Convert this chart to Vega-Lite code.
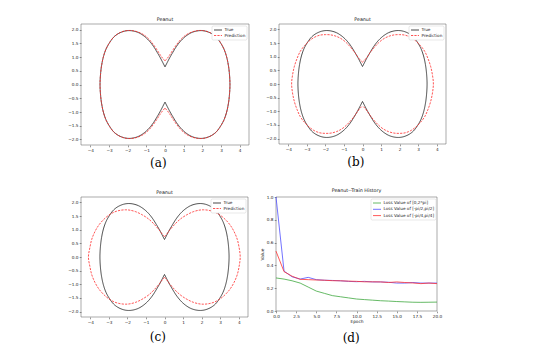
{
"$schema": "https://vega.github.io/schema/vega-lite/v6.json",
"padding": {"left": 67, "top": 16, "right": 5, "bottom": 5},
"background": "white",
"datasets": {
"curves": [
{"p":"T","s":"True","g":"R","x":0,"y":0.64},{"p":"T","s":"True","g":"R","x":0.12,"y":0.8},{"p":"T","s":"True","g":"R","x":0.25,"y":0.97},{"p":"T","s":"True","g":"R","x":0.42,"y":1.17},{"p":"T","s":"True","g":"R","x":0.62,"y":1.39},{"p":"T","s":"True","g":"R","x":0.85,"y":1.59},{"p":"T","s":"True","g":"R","x":1.1,"y":1.75},{"p":"T","s":"True","g":"R","x":1.4,"y":1.88},{"p":"T","s":"True","g":"R","x":1.7,"y":1.945},{"p":"T","s":"True","g":"R","x":1.95,"y":1.96},{"p":"T","s":"True","g":"R","x":2.2,"y":1.935},{"p":"T","s":"True","g":"R","x":2.5,"y":1.85},{"p":"T","s":"True","g":"R","x":2.75,"y":1.72},{"p":"T","s":"True","g":"R","x":2.97,"y":1.52},{"p":"T","s":"True","g":"R","x":3.15,"y":1.3},{"p":"T","s":"True","g":"R","x":3.29,"y":1.03},{"p":"T","s":"True","g":"R","x":3.39,"y":0.72},{"p":"T","s":"True","g":"R","x":3.45,"y":0.4},{"p":"T","s":"True","g":"R","x":3.48,"y":0},{"p":"T","s":"True","g":"R","x":3.45,"y":-0.4},{"p":"T","s":"True","g":"R","x":3.39,"y":-0.72},{"p":"T","s":"True","g":"R","x":3.29,"y":-1.03},{"p":"T","s":"True","g":"R","x":3.15,"y":-1.3},{"p":"T","s":"True","g":"R","x":2.97,"y":-1.52},{"p":"T","s":"True","g":"R","x":2.75,"y":-1.72},{"p":"T","s":"True","g":"R","x":2.5,"y":-1.85},{"p":"T","s":"True","g":"R","x":2.2,"y":-1.935},{"p":"T","s":"True","g":"R","x":1.95,"y":-1.96},{"p":"T","s":"True","g":"R","x":1.7,"y":-1.945},{"p":"T","s":"True","g":"R","x":1.4,"y":-1.88},{"p":"T","s":"True","g":"R","x":1.1,"y":-1.75},{"p":"T","s":"True","g":"R","x":0.85,"y":-1.59},{"p":"T","s":"True","g":"R","x":0.62,"y":-1.39},{"p":"T","s":"True","g":"R","x":0.42,"y":-1.17},{"p":"T","s":"True","g":"R","x":0.25,"y":-0.97},{"p":"T","s":"True","g":"R","x":0.12,"y":-0.8},{"p":"T","s":"True","g":"R","x":0,"y":-0.64},
{"p":"T","s":"True","g":"L","x":0,"y":0.64},{"p":"T","s":"True","g":"L","x":-0.12,"y":0.8},{"p":"T","s":"True","g":"L","x":-0.25,"y":0.97},{"p":"T","s":"True","g":"L","x":-0.42,"y":1.17},{"p":"T","s":"True","g":"L","x":-0.62,"y":1.39},{"p":"T","s":"True","g":"L","x":-0.85,"y":1.59},{"p":"T","s":"True","g":"L","x":-1.1,"y":1.75},{"p":"T","s":"True","g":"L","x":-1.4,"y":1.88},{"p":"T","s":"True","g":"L","x":-1.7,"y":1.945},{"p":"T","s":"True","g":"L","x":-1.95,"y":1.96},{"p":"T","s":"True","g":"L","x":-2.2,"y":1.935},{"p":"T","s":"True","g":"L","x":-2.5,"y":1.85},{"p":"T","s":"True","g":"L","x":-2.75,"y":1.72},{"p":"T","s":"True","g":"L","x":-2.97,"y":1.52},{"p":"T","s":"True","g":"L","x":-3.15,"y":1.3},{"p":"T","s":"True","g":"L","x":-3.29,"y":1.03},{"p":"T","s":"True","g":"L","x":-3.39,"y":0.72},{"p":"T","s":"True","g":"L","x":-3.45,"y":0.4},{"p":"T","s":"True","g":"L","x":-3.48,"y":0},{"p":"T","s":"True","g":"L","x":-3.45,"y":-0.4},{"p":"T","s":"True","g":"L","x":-3.39,"y":-0.72},{"p":"T","s":"True","g":"L","x":-3.29,"y":-1.03},{"p":"T","s":"True","g":"L","x":-3.15,"y":-1.3},{"p":"T","s":"True","g":"L","x":-2.97,"y":-1.52},{"p":"T","s":"True","g":"L","x":-2.75,"y":-1.72},{"p":"T","s":"True","g":"L","x":-2.5,"y":-1.85},{"p":"T","s":"True","g":"L","x":-2.2,"y":-1.935},{"p":"T","s":"True","g":"L","x":-1.95,"y":-1.96},{"p":"T","s":"True","g":"L","x":-1.7,"y":-1.945},{"p":"T","s":"True","g":"L","x":-1.4,"y":-1.88},{"p":"T","s":"True","g":"L","x":-1.1,"y":-1.75},{"p":"T","s":"True","g":"L","x":-0.85,"y":-1.59},{"p":"T","s":"True","g":"L","x":-0.62,"y":-1.39},{"p":"T","s":"True","g":"L","x":-0.42,"y":-1.17},{"p":"T","s":"True","g":"L","x":-0.25,"y":-0.97},{"p":"T","s":"True","g":"L","x":-0.12,"y":-0.8},{"p":"T","s":"True","g":"L","x":0,"y":-0.64},
{"p":"a","s":"Prediction","g":"R","x":0,"y":0.86},{"p":"a","s":"Prediction","g":"R","x":0.12,"y":0.95},{"p":"a","s":"Prediction","g":"R","x":0.25,"y":1.07},{"p":"a","s":"Prediction","g":"R","x":0.42,"y":1.25},{"p":"a","s":"Prediction","g":"R","x":0.62,"y":1.45},{"p":"a","s":"Prediction","g":"R","x":0.85,"y":1.64},{"p":"a","s":"Prediction","g":"R","x":1.1,"y":1.79},{"p":"a","s":"Prediction","g":"R","x":1.4,"y":1.9},{"p":"a","s":"Prediction","g":"R","x":1.7,"y":1.955},{"p":"a","s":"Prediction","g":"R","x":1.95,"y":1.965},{"p":"a","s":"Prediction","g":"R","x":2.2,"y":1.94},{"p":"a","s":"Prediction","g":"R","x":2.5,"y":1.855},{"p":"a","s":"Prediction","g":"R","x":2.75,"y":1.725},{"p":"a","s":"Prediction","g":"R","x":2.97,"y":1.525},{"p":"a","s":"Prediction","g":"R","x":3.15,"y":1.305},{"p":"a","s":"Prediction","g":"R","x":3.29,"y":1.035},{"p":"a","s":"Prediction","g":"R","x":3.39,"y":0.72},{"p":"a","s":"Prediction","g":"R","x":3.45,"y":0.4},{"p":"a","s":"Prediction","g":"R","x":3.48,"y":0},{"p":"a","s":"Prediction","g":"R","x":3.45,"y":-0.4},{"p":"a","s":"Prediction","g":"R","x":3.39,"y":-0.72},{"p":"a","s":"Prediction","g":"R","x":3.29,"y":-1.035},{"p":"a","s":"Prediction","g":"R","x":3.15,"y":-1.305},{"p":"a","s":"Prediction","g":"R","x":2.97,"y":-1.525},{"p":"a","s":"Prediction","g":"R","x":2.75,"y":-1.725},{"p":"a","s":"Prediction","g":"R","x":2.5,"y":-1.855},{"p":"a","s":"Prediction","g":"R","x":2.2,"y":-1.94},{"p":"a","s":"Prediction","g":"R","x":1.95,"y":-1.965},{"p":"a","s":"Prediction","g":"R","x":1.7,"y":-1.955},{"p":"a","s":"Prediction","g":"R","x":1.4,"y":-1.9},{"p":"a","s":"Prediction","g":"R","x":1.1,"y":-1.79},{"p":"a","s":"Prediction","g":"R","x":0.85,"y":-1.64},{"p":"a","s":"Prediction","g":"R","x":0.62,"y":-1.45},{"p":"a","s":"Prediction","g":"R","x":0.42,"y":-1.25},{"p":"a","s":"Prediction","g":"R","x":0.25,"y":-1.07},{"p":"a","s":"Prediction","g":"R","x":0.12,"y":-0.95},{"p":"a","s":"Prediction","g":"R","x":0,"y":-0.86},
{"p":"a","s":"Prediction","g":"L","x":0,"y":0.86},{"p":"a","s":"Prediction","g":"L","x":-0.12,"y":0.95},{"p":"a","s":"Prediction","g":"L","x":-0.25,"y":1.07},{"p":"a","s":"Prediction","g":"L","x":-0.42,"y":1.25},{"p":"a","s":"Prediction","g":"L","x":-0.62,"y":1.45},{"p":"a","s":"Prediction","g":"L","x":-0.85,"y":1.64},{"p":"a","s":"Prediction","g":"L","x":-1.1,"y":1.79},{"p":"a","s":"Prediction","g":"L","x":-1.4,"y":1.9},{"p":"a","s":"Prediction","g":"L","x":-1.7,"y":1.955},{"p":"a","s":"Prediction","g":"L","x":-1.95,"y":1.965},{"p":"a","s":"Prediction","g":"L","x":-2.2,"y":1.94},{"p":"a","s":"Prediction","g":"L","x":-2.5,"y":1.855},{"p":"a","s":"Prediction","g":"L","x":-2.75,"y":1.725},{"p":"a","s":"Prediction","g":"L","x":-2.97,"y":1.525},{"p":"a","s":"Prediction","g":"L","x":-3.15,"y":1.305},{"p":"a","s":"Prediction","g":"L","x":-3.29,"y":1.035},{"p":"a","s":"Prediction","g":"L","x":-3.39,"y":0.72},{"p":"a","s":"Prediction","g":"L","x":-3.45,"y":0.4},{"p":"a","s":"Prediction","g":"L","x":-3.48,"y":0},{"p":"a","s":"Prediction","g":"L","x":-3.45,"y":-0.4},{"p":"a","s":"Prediction","g":"L","x":-3.39,"y":-0.72},{"p":"a","s":"Prediction","g":"L","x":-3.29,"y":-1.035},{"p":"a","s":"Prediction","g":"L","x":-3.15,"y":-1.305},{"p":"a","s":"Prediction","g":"L","x":-2.97,"y":-1.525},{"p":"a","s":"Prediction","g":"L","x":-2.75,"y":-1.725},{"p":"a","s":"Prediction","g":"L","x":-2.5,"y":-1.855},{"p":"a","s":"Prediction","g":"L","x":-2.2,"y":-1.94},{"p":"a","s":"Prediction","g":"L","x":-1.95,"y":-1.965},{"p":"a","s":"Prediction","g":"L","x":-1.7,"y":-1.955},{"p":"a","s":"Prediction","g":"L","x":-1.4,"y":-1.9},{"p":"a","s":"Prediction","g":"L","x":-1.1,"y":-1.79},{"p":"a","s":"Prediction","g":"L","x":-0.85,"y":-1.64},{"p":"a","s":"Prediction","g":"L","x":-0.62,"y":-1.45},{"p":"a","s":"Prediction","g":"L","x":-0.42,"y":-1.25},{"p":"a","s":"Prediction","g":"L","x":-0.25,"y":-1.07},{"p":"a","s":"Prediction","g":"L","x":-0.12,"y":-0.95},{"p":"a","s":"Prediction","g":"L","x":0,"y":-0.86},
{"p":"b","s":"Prediction","g":"R","x":0,"y":0.8},{"p":"b","s":"Prediction","g":"R","x":0.12,"y":0.88},{"p":"b","s":"Prediction","g":"R","x":0.25,"y":0.99},{"p":"b","s":"Prediction","g":"R","x":0.42,"y":1.16},{"p":"b","s":"Prediction","g":"R","x":0.62,"y":1.33},{"p":"b","s":"Prediction","g":"R","x":0.85,"y":1.5},{"p":"b","s":"Prediction","g":"R","x":1.1,"y":1.64},{"p":"b","s":"Prediction","g":"R","x":1.4,"y":1.745},{"p":"b","s":"Prediction","g":"R","x":1.7,"y":1.8},{"p":"b","s":"Prediction","g":"R","x":2.0,"y":1.81},{"p":"b","s":"Prediction","g":"R","x":2.3,"y":1.79},{"p":"b","s":"Prediction","g":"R","x":2.6,"y":1.71},{"p":"b","s":"Prediction","g":"R","x":2.87,"y":1.58},{"p":"b","s":"Prediction","g":"R","x":3.12,"y":1.41},{"p":"b","s":"Prediction","g":"R","x":3.35,"y":1.2},{"p":"b","s":"Prediction","g":"R","x":3.53,"y":0.93},{"p":"b","s":"Prediction","g":"R","x":3.67,"y":0.65},{"p":"b","s":"Prediction","g":"R","x":3.77,"y":0.33},{"p":"b","s":"Prediction","g":"R","x":3.82,"y":0},{"p":"b","s":"Prediction","g":"R","x":3.77,"y":-0.33},{"p":"b","s":"Prediction","g":"R","x":3.67,"y":-0.65},{"p":"b","s":"Prediction","g":"R","x":3.53,"y":-0.93},{"p":"b","s":"Prediction","g":"R","x":3.35,"y":-1.2},{"p":"b","s":"Prediction","g":"R","x":3.12,"y":-1.41},{"p":"b","s":"Prediction","g":"R","x":2.87,"y":-1.58},{"p":"b","s":"Prediction","g":"R","x":2.6,"y":-1.71},{"p":"b","s":"Prediction","g":"R","x":2.3,"y":-1.79},{"p":"b","s":"Prediction","g":"R","x":2.0,"y":-1.81},{"p":"b","s":"Prediction","g":"R","x":1.7,"y":-1.8},{"p":"b","s":"Prediction","g":"R","x":1.4,"y":-1.745},{"p":"b","s":"Prediction","g":"R","x":1.1,"y":-1.64},{"p":"b","s":"Prediction","g":"R","x":0.85,"y":-1.5},{"p":"b","s":"Prediction","g":"R","x":0.62,"y":-1.33},{"p":"b","s":"Prediction","g":"R","x":0.42,"y":-1.16},{"p":"b","s":"Prediction","g":"R","x":0.25,"y":-0.99},{"p":"b","s":"Prediction","g":"R","x":0.12,"y":-0.88},{"p":"b","s":"Prediction","g":"R","x":0,"y":-0.8},
{"p":"b","s":"Prediction","g":"L","x":0,"y":0.8},{"p":"b","s":"Prediction","g":"L","x":-0.12,"y":0.88},{"p":"b","s":"Prediction","g":"L","x":-0.25,"y":0.99},{"p":"b","s":"Prediction","g":"L","x":-0.42,"y":1.16},{"p":"b","s":"Prediction","g":"L","x":-0.62,"y":1.33},{"p":"b","s":"Prediction","g":"L","x":-0.85,"y":1.5},{"p":"b","s":"Prediction","g":"L","x":-1.1,"y":1.64},{"p":"b","s":"Prediction","g":"L","x":-1.4,"y":1.745},{"p":"b","s":"Prediction","g":"L","x":-1.7,"y":1.8},{"p":"b","s":"Prediction","g":"L","x":-2.0,"y":1.81},{"p":"b","s":"Prediction","g":"L","x":-2.3,"y":1.79},{"p":"b","s":"Prediction","g":"L","x":-2.6,"y":1.71},{"p":"b","s":"Prediction","g":"L","x":-2.87,"y":1.58},{"p":"b","s":"Prediction","g":"L","x":-3.12,"y":1.41},{"p":"b","s":"Prediction","g":"L","x":-3.35,"y":1.2},{"p":"b","s":"Prediction","g":"L","x":-3.53,"y":0.93},{"p":"b","s":"Prediction","g":"L","x":-3.67,"y":0.65},{"p":"b","s":"Prediction","g":"L","x":-3.77,"y":0.33},{"p":"b","s":"Prediction","g":"L","x":-3.82,"y":0},{"p":"b","s":"Prediction","g":"L","x":-3.77,"y":-0.33},{"p":"b","s":"Prediction","g":"L","x":-3.67,"y":-0.65},{"p":"b","s":"Prediction","g":"L","x":-3.53,"y":-0.93},{"p":"b","s":"Prediction","g":"L","x":-3.35,"y":-1.2},{"p":"b","s":"Prediction","g":"L","x":-3.12,"y":-1.41},{"p":"b","s":"Prediction","g":"L","x":-2.87,"y":-1.58},{"p":"b","s":"Prediction","g":"L","x":-2.6,"y":-1.71},{"p":"b","s":"Prediction","g":"L","x":-2.3,"y":-1.79},{"p":"b","s":"Prediction","g":"L","x":-2.0,"y":-1.81},{"p":"b","s":"Prediction","g":"L","x":-1.7,"y":-1.8},{"p":"b","s":"Prediction","g":"L","x":-1.4,"y":-1.745},{"p":"b","s":"Prediction","g":"L","x":-1.1,"y":-1.64},{"p":"b","s":"Prediction","g":"L","x":-0.85,"y":-1.5},{"p":"b","s":"Prediction","g":"L","x":-0.62,"y":-1.33},{"p":"b","s":"Prediction","g":"L","x":-0.42,"y":-1.16},{"p":"b","s":"Prediction","g":"L","x":-0.25,"y":-0.99},{"p":"b","s":"Prediction","g":"L","x":-0.12,"y":-0.88},{"p":"b","s":"Prediction","g":"L","x":0,"y":-0.8},
{"p":"c","s":"Prediction","g":"R","x":0,"y":0.75},{"p":"c","s":"Prediction","g":"R","x":0.12,"y":0.84},{"p":"c","s":"Prediction","g":"R","x":0.25,"y":0.96},{"p":"c","s":"Prediction","g":"R","x":0.45,"y":1.12},{"p":"c","s":"Prediction","g":"R","x":0.7,"y":1.3},{"p":"c","s":"Prediction","g":"R","x":0.95,"y":1.44},{"p":"c","s":"Prediction","g":"R","x":1.25,"y":1.565},{"p":"c","s":"Prediction","g":"R","x":1.55,"y":1.66},{"p":"c","s":"Prediction","g":"R","x":1.85,"y":1.715},{"p":"c","s":"Prediction","g":"R","x":2.1,"y":1.73},{"p":"c","s":"Prediction","g":"R","x":2.4,"y":1.71},{"p":"c","s":"Prediction","g":"R","x":2.7,"y":1.65},{"p":"c","s":"Prediction","g":"R","x":3.0,"y":1.535},{"p":"c","s":"Prediction","g":"R","x":3.3,"y":1.36},{"p":"c","s":"Prediction","g":"R","x":3.55,"y":1.16},{"p":"c","s":"Prediction","g":"R","x":3.75,"y":0.93},{"p":"c","s":"Prediction","g":"R","x":3.92,"y":0.65},{"p":"c","s":"Prediction","g":"R","x":4.02,"y":0.35},{"p":"c","s":"Prediction","g":"R","x":4.08,"y":0},{"p":"c","s":"Prediction","g":"R","x":4.02,"y":-0.35},{"p":"c","s":"Prediction","g":"R","x":3.92,"y":-0.65},{"p":"c","s":"Prediction","g":"R","x":3.75,"y":-0.93},{"p":"c","s":"Prediction","g":"R","x":3.55,"y":-1.16},{"p":"c","s":"Prediction","g":"R","x":3.3,"y":-1.36},{"p":"c","s":"Prediction","g":"R","x":3.0,"y":-1.535},{"p":"c","s":"Prediction","g":"R","x":2.7,"y":-1.65},{"p":"c","s":"Prediction","g":"R","x":2.4,"y":-1.71},{"p":"c","s":"Prediction","g":"R","x":2.1,"y":-1.73},{"p":"c","s":"Prediction","g":"R","x":1.85,"y":-1.715},{"p":"c","s":"Prediction","g":"R","x":1.55,"y":-1.66},{"p":"c","s":"Prediction","g":"R","x":1.25,"y":-1.565},{"p":"c","s":"Prediction","g":"R","x":0.95,"y":-1.44},{"p":"c","s":"Prediction","g":"R","x":0.7,"y":-1.3},{"p":"c","s":"Prediction","g":"R","x":0.45,"y":-1.12},{"p":"c","s":"Prediction","g":"R","x":0.25,"y":-0.96},{"p":"c","s":"Prediction","g":"R","x":0.12,"y":-0.84},{"p":"c","s":"Prediction","g":"R","x":0,"y":-0.75},
{"p":"c","s":"Prediction","g":"L","x":0,"y":0.75},{"p":"c","s":"Prediction","g":"L","x":-0.12,"y":0.84},{"p":"c","s":"Prediction","g":"L","x":-0.25,"y":0.96},{"p":"c","s":"Prediction","g":"L","x":-0.45,"y":1.12},{"p":"c","s":"Prediction","g":"L","x":-0.7,"y":1.3},{"p":"c","s":"Prediction","g":"L","x":-0.95,"y":1.44},{"p":"c","s":"Prediction","g":"L","x":-1.25,"y":1.565},{"p":"c","s":"Prediction","g":"L","x":-1.55,"y":1.66},{"p":"c","s":"Prediction","g":"L","x":-1.85,"y":1.715},{"p":"c","s":"Prediction","g":"L","x":-2.1,"y":1.73},{"p":"c","s":"Prediction","g":"L","x":-2.4,"y":1.71},{"p":"c","s":"Prediction","g":"L","x":-2.7,"y":1.65},{"p":"c","s":"Prediction","g":"L","x":-3.0,"y":1.535},{"p":"c","s":"Prediction","g":"L","x":-3.3,"y":1.36},{"p":"c","s":"Prediction","g":"L","x":-3.55,"y":1.16},{"p":"c","s":"Prediction","g":"L","x":-3.75,"y":0.93},{"p":"c","s":"Prediction","g":"L","x":-3.92,"y":0.65},{"p":"c","s":"Prediction","g":"L","x":-4.02,"y":0.35},{"p":"c","s":"Prediction","g":"L","x":-4.1,"y":0},{"p":"c","s":"Prediction","g":"L","x":-4.02,"y":-0.35},{"p":"c","s":"Prediction","g":"L","x":-3.92,"y":-0.65},{"p":"c","s":"Prediction","g":"L","x":-3.75,"y":-0.93},{"p":"c","s":"Prediction","g":"L","x":-3.55,"y":-1.16},{"p":"c","s":"Prediction","g":"L","x":-3.3,"y":-1.36},{"p":"c","s":"Prediction","g":"L","x":-3.0,"y":-1.535},{"p":"c","s":"Prediction","g":"L","x":-2.7,"y":-1.65},{"p":"c","s":"Prediction","g":"L","x":-2.4,"y":-1.71},{"p":"c","s":"Prediction","g":"L","x":-2.1,"y":-1.73},{"p":"c","s":"Prediction","g":"L","x":-1.85,"y":-1.715},{"p":"c","s":"Prediction","g":"L","x":-1.55,"y":-1.66},{"p":"c","s":"Prediction","g":"L","x":-1.25,"y":-1.565},{"p":"c","s":"Prediction","g":"L","x":-0.95,"y":-1.44},{"p":"c","s":"Prediction","g":"L","x":-0.7,"y":-1.3},{"p":"c","s":"Prediction","g":"L","x":-0.45,"y":-1.12},{"p":"c","s":"Prediction","g":"L","x":-0.25,"y":-0.96},{"p":"c","s":"Prediction","g":"L","x":-0.12,"y":-0.84},{"p":"c","s":"Prediction","g":"L","x":0,"y":-0.75}
],
"loss": [
{"series":"Loss Value of [0,2*pi]","e":0,"v":0.29},{"series":"Loss Value of [0,2*pi]","e":1,"v":0.28},{"series":"Loss Value of [0,2*pi]","e":2,"v":0.265},{"series":"Loss Value of [0,2*pi]","e":3,"v":0.245},{"series":"Loss Value of [0,2*pi]","e":4,"v":0.21},{"series":"Loss Value of [0,2*pi]","e":5,"v":0.175},{"series":"Loss Value of [0,2*pi]","e":6,"v":0.155},{"series":"Loss Value of [0,2*pi]","e":7,"v":0.135},{"series":"Loss Value of [0,2*pi]","e":8,"v":0.125},{"series":"Loss Value of [0,2*pi]","e":9,"v":0.115},{"series":"Loss Value of [0,2*pi]","e":10,"v":0.105},{"series":"Loss Value of [0,2*pi]","e":11,"v":0.1},{"series":"Loss Value of [0,2*pi]","e":12,"v":0.095},{"series":"Loss Value of [0,2*pi]","e":13,"v":0.09},{"series":"Loss Value of [0,2*pi]","e":14,"v":0.087},{"series":"Loss Value of [0,2*pi]","e":15,"v":0.083},{"series":"Loss Value of [0,2*pi]","e":16,"v":0.08},{"series":"Loss Value of [0,2*pi]","e":17,"v":0.077},{"series":"Loss Value of [0,2*pi]","e":18,"v":0.076},{"series":"Loss Value of [0,2*pi]","e":19,"v":0.077},{"series":"Loss Value of [0,2*pi]","e":20,"v":0.078},
{"series":"Loss Value of [-pi/2,pi/2]","e":0,"v":1.0},{"series":"Loss Value of [-pi/2,pi/2]","e":1,"v":0.35},{"series":"Loss Value of [-pi/2,pi/2]","e":2,"v":0.3},{"series":"Loss Value of [-pi/2,pi/2]","e":3,"v":0.28},{"series":"Loss Value of [-pi/2,pi/2]","e":4,"v":0.295},{"series":"Loss Value of [-pi/2,pi/2]","e":5,"v":0.275},{"series":"Loss Value of [-pi/2,pi/2]","e":6,"v":0.27},{"series":"Loss Value of [-pi/2,pi/2]","e":7,"v":0.268},{"series":"Loss Value of [-pi/2,pi/2]","e":8,"v":0.265},{"series":"Loss Value of [-pi/2,pi/2]","e":9,"v":0.26},{"series":"Loss Value of [-pi/2,pi/2]","e":10,"v":0.257},{"series":"Loss Value of [-pi/2,pi/2]","e":11,"v":0.26},{"series":"Loss Value of [-pi/2,pi/2]","e":12,"v":0.255},{"series":"Loss Value of [-pi/2,pi/2]","e":13,"v":0.255},{"series":"Loss Value of [-pi/2,pi/2]","e":14,"v":0.252},{"series":"Loss Value of [-pi/2,pi/2]","e":15,"v":0.245},{"series":"Loss Value of [-pi/2,pi/2]","e":16,"v":0.245},{"series":"Loss Value of [-pi/2,pi/2]","e":17,"v":0.25},{"series":"Loss Value of [-pi/2,pi/2]","e":18,"v":0.245},{"series":"Loss Value of [-pi/2,pi/2]","e":19,"v":0.245},{"series":"Loss Value of [-pi/2,pi/2]","e":20,"v":0.245},
{"series":"Loss Value of [-pi/4,pi/4]","e":0,"v":0.525},{"series":"Loss Value of [-pi/4,pi/4]","e":1,"v":0.345},{"series":"Loss Value of [-pi/4,pi/4]","e":2,"v":0.305},{"series":"Loss Value of [-pi/4,pi/4]","e":3,"v":0.278},{"series":"Loss Value of [-pi/4,pi/4]","e":4,"v":0.275},{"series":"Loss Value of [-pi/4,pi/4]","e":5,"v":0.272},{"series":"Loss Value of [-pi/4,pi/4]","e":6,"v":0.27},{"series":"Loss Value of [-pi/4,pi/4]","e":7,"v":0.266},{"series":"Loss Value of [-pi/4,pi/4]","e":8,"v":0.265},{"series":"Loss Value of [-pi/4,pi/4]","e":9,"v":0.262},{"series":"Loss Value of [-pi/4,pi/4]","e":10,"v":0.26},{"series":"Loss Value of [-pi/4,pi/4]","e":11,"v":0.256},{"series":"Loss Value of [-pi/4,pi/4]","e":12,"v":0.256},{"series":"Loss Value of [-pi/4,pi/4]","e":13,"v":0.255},{"series":"Loss Value of [-pi/4,pi/4]","e":14,"v":0.25},{"series":"Loss Value of [-pi/4,pi/4]","e":15,"v":0.255},{"series":"Loss Value of [-pi/4,pi/4]","e":16,"v":0.25},{"series":"Loss Value of [-pi/4,pi/4]","e":17,"v":0.246},{"series":"Loss Value of [-pi/4,pi/4]","e":18,"v":0.24},{"series":"Loss Value of [-pi/4,pi/4]","e":19,"v":0.245},{"series":"Loss Value of [-pi/4,pi/4]","e":20,"v":0.24}
]
},
"spacing": 18,
"resolve": {"scale": {"color": "independent", "strokeDash": "independent"}, "legend": {"color": "independent", "strokeDash": "independent"}},
"vconcat": [
{
"hconcat": [
{
"title": {"text": "(a)", "orient": "bottom", "anchor": "middle", "font": "DejaVu Serif", "fontSize": 12, "fontWeight": "normal", "offset": 5, "color": "#000"},
"resolve": {"scale": {"color": "independent", "strokeDash": "independent"}, "legend": {"color": "independent", "strokeDash": "independent"}},
"vconcat": [
{
"title": "Peanut",
"width": 168, "height": 121,
"data": {"name": "curves"},
"encoding": {
"x": {"field": "x", "type": "quantitative", "scale": {"domain": [-4.5, 4.5], "nice": false, "zero": false}, "axis": {"values": [-4,-3,-2,-1,0,1,2,3,4], "format": "d", "title": null}},
"y": {"field": "y", "type": "quantitative", "scale": {"domain": [-2.2, 2.2], "nice": false, "zero": false}, "axis": {"values": [-2,-1.5,-1,-0.5,0,0.5,1,1.5,2], "format": ".1f", "title": null}},
"color": {"field": "s", "type": "nominal", "scale": {"domain": ["True", "Prediction"], "range": ["#1a1a1a", "#ff2a2a"]}, "legend": {"title": null}},
"strokeDash": {"field": "s", "type": "nominal", "scale": {"domain": ["True", "Prediction"], "range": [[1, 0], [2.2, 1.2]]}, "legend": {"title": null}},
"detail": {"field": "g"},
"order": {"value": null}
},
"layer": [
{"transform": [{"filter": "datum.p == 'T'"}], "mark": {"type": "line", "interpolate": "catmull-rom", "strokeWidth": 0.8}},
{"transform": [{"filter": "datum.p == 'a'"}], "mark": {"type": "line", "interpolate": "catmull-rom", "strokeWidth": 0.8}}
]
}
]
},
{
"title": {"text": "(b)", "orient": "bottom", "anchor": "middle", "font": "DejaVu Serif", "fontSize": 12, "fontWeight": "normal", "offset": 5, "color": "#000"},
"resolve": {"scale": {"color": "independent", "strokeDash": "independent"}, "legend": {"color": "independent", "strokeDash": "independent"}},
"vconcat": [
{
"title": "Peanut",
"width": 167, "height": 120,
"data": {"name": "curves"},
"encoding": {
"x": {"field": "x", "type": "quantitative", "scale": {"domain": [-4.5, 4.5], "nice": false, "zero": false}, "axis": {"values": [-4,-3,-2,-1,0,1,2,3,4], "format": "d", "title": null}},
"y": {"field": "y", "type": "quantitative", "scale": {"domain": [-2.2, 2.2], "nice": false, "zero": false}, "axis": {"values": [-2,-1.5,-1,-0.5,0,0.5,1,1.5,2], "format": ".1f", "title": null}},
"color": {"field": "s", "type": "nominal", "scale": {"domain": ["True", "Prediction"], "range": ["#1a1a1a", "#ff2a2a"]}, "legend": {"title": null}},
"strokeDash": {"field": "s", "type": "nominal", "scale": {"domain": ["True", "Prediction"], "range": [[1, 0], [2.2, 1.2]]}, "legend": {"title": null}},
"detail": {"field": "g"},
"order": {"value": null}
},
"layer": [
{"transform": [{"filter": "datum.p == 'T'"}], "mark": {"type": "line", "interpolate": "catmull-rom", "strokeWidth": 0.8}},
{"transform": [{"filter": "datum.p == 'b'"}], "mark": {"type": "line", "interpolate": "catmull-rom", "strokeWidth": 0.8}}
]
}
]
}
],
"spacing": 15,
"resolve": {"scale": {"color": "independent", "strokeDash": "independent"}, "legend": {"color": "independent", "strokeDash": "independent"}}
},
{
"hconcat": [
{
"title": {"text": "(c)", "orient": "bottom", "anchor": "middle", "font": "DejaVu Serif", "fontSize": 12, "fontWeight": "normal", "offset": 7, "color": "#000"},
"resolve": {"scale": {"color": "independent", "strokeDash": "independent"}, "legend": {"color": "independent", "strokeDash": "independent"}},
"vconcat": [
{
"title": "Peanut",
"width": 167, "height": 120,
"data": {"name": "curves"},
"encoding": {
"x": {"field": "x", "type": "quantitative", "scale": {"domain": [-4.5, 4.5], "nice": false, "zero": false}, "axis": {"values": [-4,-3,-2,-1,0,1,2,3,4], "format": "d", "title": null}},
"y": {"field": "y", "type": "quantitative", "scale": {"domain": [-2.2, 2.2], "nice": false, "zero": false}, "axis": {"values": [-2,-1.5,-1,-0.5,0,0.5,1,1.5,2], "format": ".1f", "title": null}},
"color": {"field": "s", "type": "nominal", "scale": {"domain": ["True", "Prediction"], "range": ["#1a1a1a", "#ff2a2a"]}, "legend": {"title": null}},
"strokeDash": {"field": "s", "type": "nominal", "scale": {"domain": ["True", "Prediction"], "range": [[1, 0], [2.2, 1.2]]}, "legend": {"title": null}},
"detail": {"field": "g"},
"order": {"value": null}
},
"layer": [
{"transform": [{"filter": "datum.p == 'T'"}], "mark": {"type": "line", "interpolate": "catmull-rom", "strokeWidth": 0.8}},
{"transform": [{"filter": "datum.p == 'c'"}], "mark": {"type": "line", "interpolate": "catmull-rom", "strokeWidth": 0.8}}
]
}
]
},
{
"title": {"text": "(d)", "orient": "bottom", "anchor": "middle", "font": "DejaVu Serif", "fontSize": 12, "fontWeight": "normal", "offset": 9, "color": "#000"},
"resolve": {"scale": {"color": "independent", "strokeDash": "independent"}, "legend": {"color": "independent", "strokeDash": "independent"}},
"vconcat": [
{
"title": "Peanut--Train History",
"width": 161, "height": 114,
"data": {"name": "loss"},
"mark": {"type": "line", "strokeWidth": 0.8},
"encoding": {
"x": {"field": "e", "type": "quantitative", "scale": {"domain": [0, 20], "nice": false, "zero": false}, "axis": {"values": [0,2.5,5,7.5,10,12.5,15,17.5,20], "format": ".1f", "title": "Epoch"}},
"y": {"field": "v", "type": "quantitative", "scale": {"domain": [0, 1], "nice": false}, "axis": {"values": [0,0.2,0.4,0.6,0.8,1], "format": ".1f", "title": "Value"}},
"color": {"field": "series", "type": "nominal", "scale": {"domain": ["Loss Value of [0,2*pi]", "Loss Value of [-pi/2,pi/2]", "Loss Value of [-pi/4,pi/4]"], "range": ["#3fa83f", "#4f4fff", "#ff3030"]}, "legend": {"title": null, "offset": 1.5, "rowPadding": 1.3}}
}
}
]
}
],
"spacing": 11,
"resolve": {"scale": {"color": "independent", "strokeDash": "independent"}, "legend": {"color": "independent", "strokeDash": "independent"}}
}
],
"config": {
"view": {"stroke": "#555", "strokeWidth": 0.5},
"axis": {"domain": false, "grid": false, "tickSize": 1.8, "tickWidth": 0.5, "tickColor": "#333", "labelFont": "DejaVu Sans", "labelFontSize": 4.2, "labelColor": "#222", "labelPadding": 1.3, "labelFlush": false, "labelOverlap": false, "titleFont": "DejaVu Sans", "titleFontSize": 4.3, "titleFontWeight": "normal", "titleColor": "#222", "titlePadding": 1.5},
"title": {"font": "DejaVu Sans", "fontSize": 4.8, "fontWeight": "normal", "color": "#111", "offset": 2, "anchor": "middle"},
"legend": {"orient": "top-right", "offset": 2, "symbolType": "M-1,0H3", "symbolSize": 16, "symbolStrokeWidth": 0.8, "labelFont": "DejaVu Sans", "labelFontSize": 4.2, "labelColor": "#222", "labelOffset": 6, "padding": 1.5, "rowPadding": 0.5, "strokeColor": "#d0d0d0", "fillColor": "white", "cornerRadius": 1.2, "strokeWidth": 0.5}
}
}
